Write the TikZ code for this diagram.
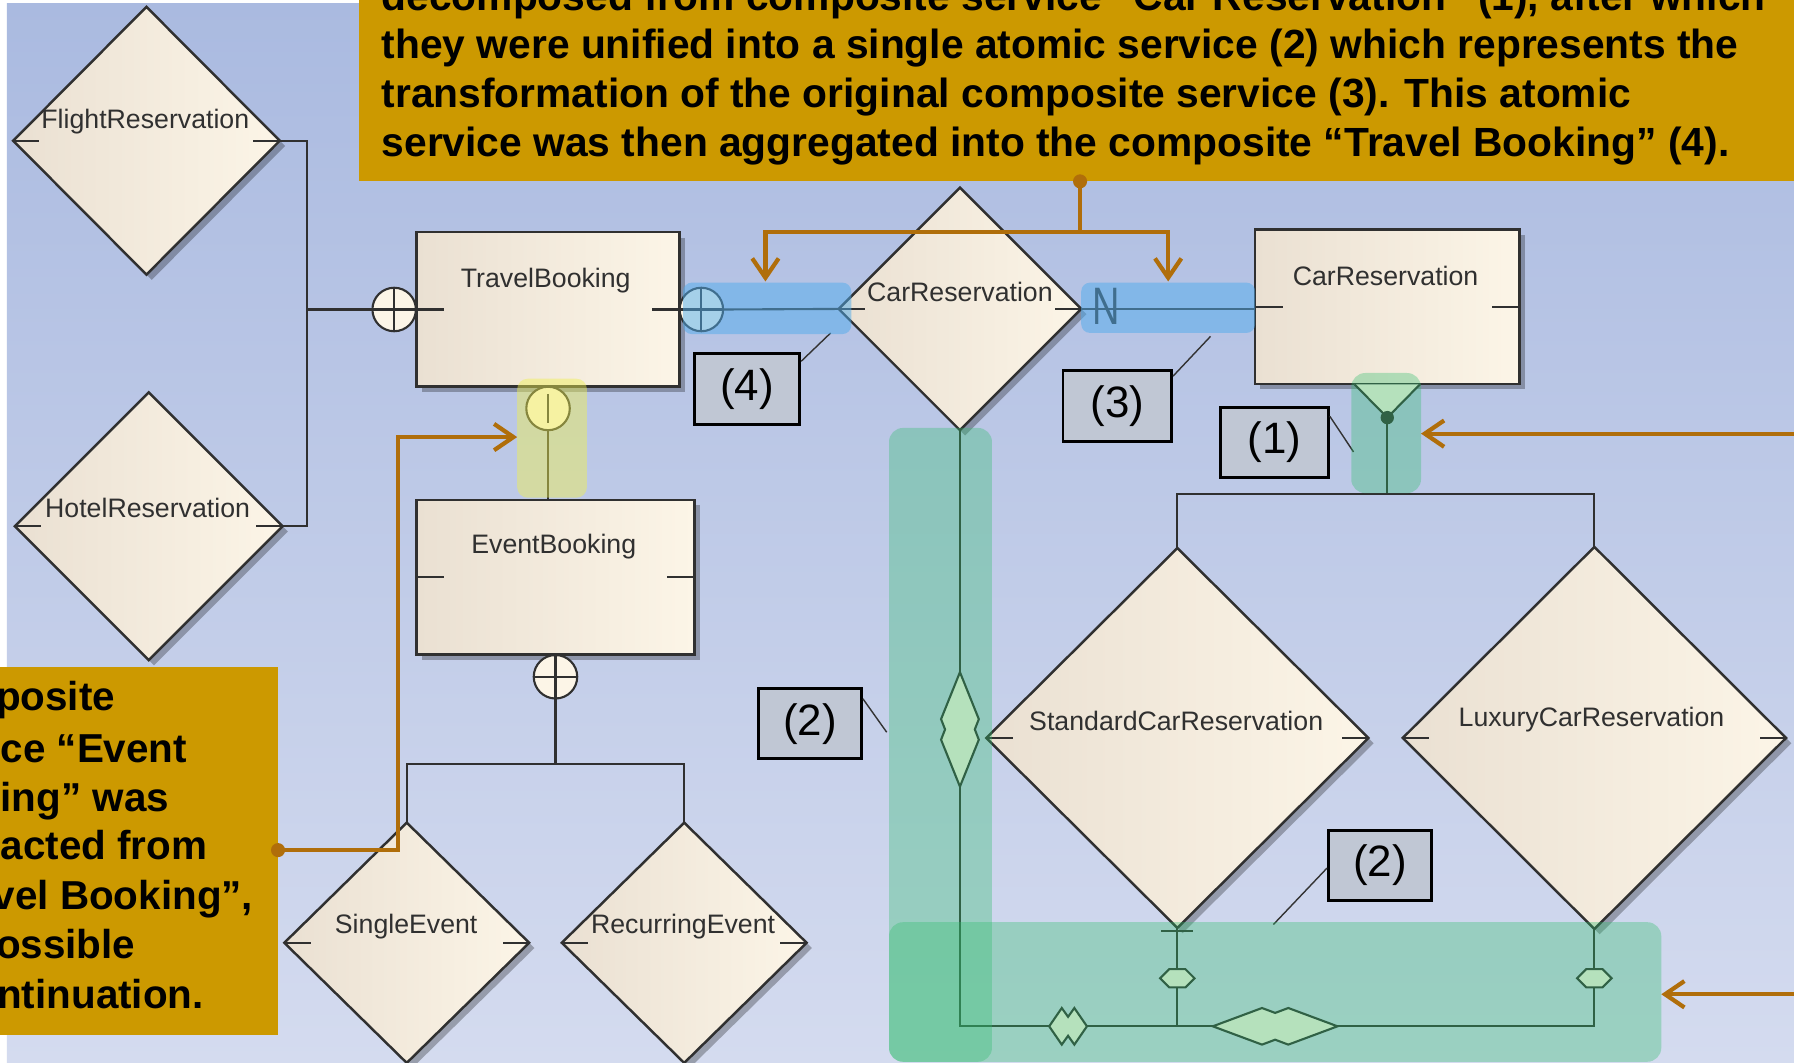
\documentclass[tikz,border=0pt]{standalone}
\usepackage{fontspec}
\setmainfont{Liberation Sans}
\usetikzlibrary{shapes.geometric,arrows.meta,shadows}
\newcommand{\unitpx}{0.011441cm}
\definecolor{bgtop}{RGB}{170,186,224}
\definecolor{bgbot}{RGB}{212,219,239}
\definecolor{gold}{RGB}{204,153,0}
\definecolor{orng}{RGB}{176,110,10}
\definecolor{creamL}{RGB}{234,224,210}
\definecolor{creamR}{RGB}{252,245,231}
\definecolor{edge}{RGB}{48,48,48}
\definecolor{numfill}{RGB}{192,199,212}
\definecolor{bandblue}{RGB}{80,172,236}
\definecolor{bandteal}{RGB}{50,190,110}
\definecolor{bandyel}{RGB}{240,240,80}
\begin{document}
\begin{tikzpicture}[x=0.011441cm, y=-0.011441cm,
  ent/.style={draw=edge, line width=0.7pt, left color=creamL, right color=creamR, inner sep=0, outer sep=0,
    drop shadow={shadow xshift=1.5pt, shadow yshift=-1.5pt, opacity=0.28, fill=black}},
  dia/.style={ent, diamond},
  ebox/.style={ent, rectangle},
  lbl/.style={font=\fontsize{7.6}{9}\selectfont, text=edge, inner sep=0},
  num/.style={draw=black, line width=0.8pt, fill=numfill, font=\fontsize{12.5}{14}\selectfont, inner sep=0},
  ln/.style={draw=edge, line width=0.6pt},
  lead/.style={draw=black!80, line width=0.4pt},
  orc/.style={draw=orng, line width=1.2pt},
  ora/.style={orc, -{Straight Barb[length=5.5pt,width=7.5pt]}},
  circ/.style={circle, draw=edge, line width=0.6pt, fill=creamR, minimum size=38*\unitpx, inner sep=0, outer sep=0},
  pluscirc/.style={circ, path picture={\draw[edge, line width=0.6pt] (path picture bounding box.west) -- (path picture bounding box.east) (path picture bounding box.north) -- (path picture bounding box.south);}},
  barcirc/.style={circ, path picture={\draw[edge, line width=0.6pt] ([yshift=-2pt]path picture bounding box.north) -- ([yshift=2pt]path picture bounding box.south);}},
  mk/.style={draw=edge, line width=0.6pt, fill=creamR},
  tbox/.style={fill=gold, inner sep=0, outer sep=0},
  txt/.style={font=\fontsize{11.6}{14}\selectfont\bfseries, anchor=base west, inner sep=0},
  ltxt/.style={font=\fontsize{11.5}{14}\selectfont\bfseries, anchor=base west, inner sep=0},
  bblue/.style={rectangle, rounded corners=2.5pt, inner sep=0, outer sep=0, fill=bandblue, fill opacity=0.5},
  bteal/.style={rectangle, rounded corners=4pt, inner sep=0, outer sep=0, fill=bandteal, fill opacity=0.35},
  byel/.style={rectangle, rounded corners=3pt, inner sep=0, outer sep=0, fill=bandyel, fill opacity=0.45}
]
\useasboundingbox (0,0) rectangle (1568,929);
\fill[white] (0,0) rectangle (1568,929);
\shade[top color=bgtop, bottom color=bgbot] (6,3) rectangle (1568,929);

% ---------- text boxes ----------
\node[tbox, anchor=south west, minimum width=1260*\unitpx, minimum height=175*\unitpx] (tbx) at (314,158.5) {};
\node[txt] (tl1) at (333,9) {decomposed from composite service “Car Reservation” (1), after which};
\node[txt] (tl2) at (333,51) {they were unified into a single atomic service (2) which represents the};
\node[txt] (tl3) at (333,94) {transformation of the original composite service (3). This atomic};
\node[txt] (tl4) at (333,137) {service was then aggregated into the composite “Travel Booking” (4).};

\node[tbox, anchor=north west, minimum width=250*\unitpx, minimum height=322*\unitpx] (lbx) at (-7,583) {};
\node[ltxt] (ll1) at (-4,621) {posite};
\node[ltxt] (ll2) at (0,666) {ce “Event};
\node[ltxt] (ll3) at (0,709) {ing” was};
\node[ltxt] (ll4) at (0,751) {acted from};
\node[ltxt] (ll5) at (-7,795) {vel Booking”,};
\node[ltxt] (ll6) at (-4,838) {ossible};
\node[ltxt] (ll7) at (-3,881) {ntinuation.};

% ---------- entities ----------
\node[dia, minimum width=233*\unitpx, minimum height=234*\unitpx] (fr) at (128,123) {};
\node[dia, minimum width=234*\unitpx, minimum height=234*\unitpx] (hr) at (130,460) {};
\node[ebox, minimum width=230*\unitpx, minimum height=135*\unitpx] (tb) at (479,270.5) {};
\node[ebox, minimum width=243*\unitpx, minimum height=135*\unitpx] (eb) at (485.5,504.5) {};
\node[dia, minimum width=212*\unitpx, minimum height=212*\unitpx] (crd) at (839,270) {};
\node[ebox, minimum width=231*\unitpx, minimum height=135*\unitpx] (crr) at (1212.5,268) {};
\node[dia, minimum width=334*\unitpx, minimum height=332*\unitpx] (std) at (1029,645) {};
\node[dia, minimum width=335*\unitpx, minimum height=334*\unitpx] (lux) at (1393.5,645) {};
\node[dia, minimum width=214*\unitpx, minimum height=210*\unitpx] (se) at (355.5,824) {};
\node[dia, minimum width=214*\unitpx, minimum height=210*\unitpx] (re) at (598,824) {};

% stubs
\foreach \n in {fr,hr,crd,std,lux,se,re}{
  \draw[ln] (\n.west) -- ++(23,0);
  \draw[ln] (\n.east) -- ++(-23,0);
}
\foreach \n in {tb,eb,crr}{
  \draw[ln] (\n.west) -- ++(24,0);
  \draw[ln] (\n.east) -- ++(-24,0);
}

% labels
\node[lbl] (lfr) at (127,106) {FlightReservation};
\node[lbl] (lhr) at (129,444) {HotelReservation};
\node[lbl] (ltb) at (477,245) {TravelBooking};
\node[lbl] (leb) at (484,478) {EventBooking};
\node[lbl] (lcrd) at (839,255) {CarReservation};
\node[lbl] (lcrr) at (1211,241) {CarReservation};
\node[lbl] (lstd) at (1028,630) {StandardCarReservation};
\node[lbl] (llux) at (1391,629) {LuxuryCarReservation};
\node[lbl] (lse) at (355,810) {SingleEvent};
\node[lbl] (lre) at (597,810) {RecurringEvent};

% ---------- circles ----------
\node[pluscirc] (c1) at (344.5,270.5) {};
\node[pluscirc] (c2) at (613,270.5) {};
\node[barcirc] (cy) at (479,357) {};
\node[pluscirc] (c3) at (485.5,591.5) {};

% ---------- connectors ----------
\coordinate (jf) at (268,270.5);
\draw[ln] (fr.east) -| (jf) |- (hr.east);
\draw[ln] (jf) -- (c1.west);
\draw[ln] (c1.east) -- (tb.west);
\draw[ln] (tb.east) -- (c2.west);
\draw[ln] (c2.east) -- (crd.west);
\draw[ln] (crd.east) -- (crr.west |- crd.east);
\draw[ln] (tb.south) -- (cy.north);
\draw[ln] (cy.south) -- (cy.south |- eb.north);
\draw[ln] (eb.south) -- (c3.north);
\coordinate (je) at (485.5,668);
\draw[ln] (c3.south) -- (je);
\draw[ln] (se.north) |- (je) -| (re.north);

% car reservation tree (Y)
\coordinate (yj) at (1212.5,432);
\coordinate (ydot) at (1212.5,365);
\draw[ln, fill=creamR] (1184,336) -- (ydot) -- (1241,336);
\draw[ln] (ydot) -- (yj);
\fill[edge] (ydot) circle[radius=1.9pt];
\draw[ln] (std.north) |- (yj) -| (lux.north);

% bottom structure
\coordinate (jb) at (839,897);
\draw[ln] (crd.south) -- (jb) -| (lux.south);
\draw[ln] (std.south) -- (std.south |- jb);
\draw[ln] ([xshift=-14*\unitpx, yshift=-3*\unitpx]std.south) -- ++(28,0);

% markers
\draw[mk, shift={(839,637.5)}] (0,-50) -- (16.5,-9) -- (13,0) -- (16.5,9) -- (0,50) -- (-16.5,9) -- (-13,0) -- (-16.5,-9) -- cycle;
\draw[mk, shift={(933.5,897)}] (-16.5,0) -- (-5.5,-16) -- (0,-8.3) -- (5.5,-16) -- (16.5,0) -- (5.5,16) -- (0,8.3) -- (-5.5,16) -- cycle;
\draw[mk, shift={(1114.5,897)}] (-54.5,0) -- (-11.5,-16) -- (0,-11.7) -- (11.5,-16) -- (54.5,0) -- (11.5,16) -- (0,11.7) -- (-11.5,16) -- cycle;
\draw[mk, shift={(1029,855)}] (-15,0) -- (-7,-8) -- (7,-8) -- (15,0) -- (7,8) -- (-7,8) -- cycle;
\draw[mk, shift={(1393.5,855)}] (-15,0) -- (-7,-8) -- (7,-8) -- (15,0) -- (7,8) -- (-7,8) -- cycle;

% N multiplicity
\node[font=\fontsize{15}{15}\selectfont, text=edge, inner sep=0] (mN) at (967,268) {\scalebox{0.72}[1]{N}};

% ---------- number labels ----------
\node[num, minimum width=92*\unitpx, minimum height=62*\unitpx] (n4) at (653,340) {(4)};
\node[num, minimum width=95*\unitpx, minimum height=62*\unitpx] (n3) at (976.5,355) {(3)};
\node[num, minimum width=94*\unitpx, minimum height=61*\unitpx] (n1) at (1114,386.5) {(1)};
\node[num, minimum width=90*\unitpx, minimum height=61*\unitpx] (n2a) at (708,632.5) {(2)};
\node[num, minimum width=90*\unitpx, minimum height=61*\unitpx] (n2b) at (1206,756.5) {(2)};
\coordinate (e4) at (726,291);
\coordinate (e3) at (1058,294);
\coordinate (e1) at (1183,395);
\coordinate (e2a) at (775,640);
\coordinate (e2b) at (1113,808);
\draw[lead] ([yshift=-8*\unitpx]n4.north east) -- (e4);
\draw[lead] ([yshift=-6*\unitpx]n3.north east) -- (e3);
\draw[lead] ([yshift=-9*\unitpx]n1.north east) -- (e1);
\draw[lead] ([yshift=-10*\unitpx]n2a.north east) -- (e2a);
\draw[lead] ([yshift=-34*\unitpx]n2b.north west) -- (e2b);

% ---------- highlight bands ----------
\node[bblue, minimum width=147*\unitpx, minimum height=45*\unitpx] (bb1) at (670.5,269.5) {};
\node[bblue, minimum width=152*\unitpx, minimum height=44*\unitpx] (bb2) at (1021,269) {};
\node[byel, minimum width=61*\unitpx, minimum height=104*\unitpx] (yb) at (482.5,383) {};
\node[bteal, minimum width=61*\unitpx, minimum height=105*\unitpx] (ty) at (1211.5,378.5) {};
\node[bteal, minimum width=90*\unitpx, minimum height=554*\unitpx] (tv) at (822,651) {};
\node[bteal, minimum width=675*\unitpx, minimum height=122*\unitpx] (th) at (1114.5,867) {};

% ---------- orange annotation connectors ----------
\coordinate (tdot) at (944,158.5);
\coordinate (tj) at (944,203);
\coordinate (a4) at (669,246);
\coordinate (a3) at (1021,246);
\draw[orc] (tdot) -- (tj);
\draw[ora] (tj) -| (a4);
\draw[ora] (tj) -| (a3);
\fill[orng] (tdot) circle[radius=2pt];

\coordinate (ldot) at (243,743);
\coordinate (lk) at (348,743);
\draw[ora] (ldot) -- (lk) |- (yb.west |- 348,382);
\fill[orng] (ldot) circle[radius=2pt];

\coordinate (r1) at (1572,379);
\coordinate (r2) at (1572,869);
\draw[ora] (r1) -- (ty.east |- r1);
\draw[ora] (r2) -- (th.east |- r2);
\end{tikzpicture}
\end{document}
